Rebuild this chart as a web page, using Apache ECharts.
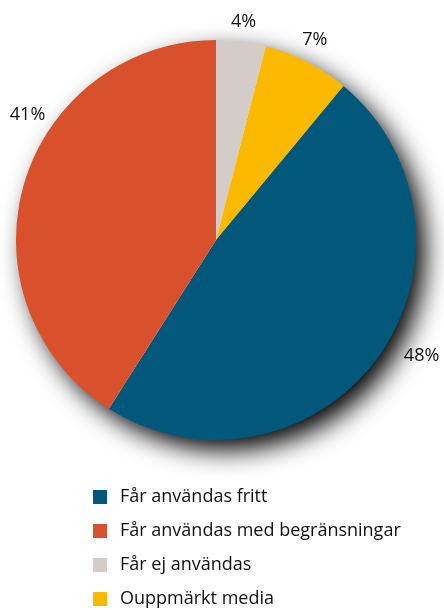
<!DOCTYPE html>
<html>
<head>
<meta charset="utf-8">
<script src="https://cdn.jsdelivr.net/npm/echarts@6/dist/echarts.min.js"></script>
<style>
  html, body { margin: 0; padding: 0; background: #fff; }
  #chart { width: 444px; height: 610px; }
</style>
</head>
<body>
<div id="chart"></div>
<script>
// Share of media by usage permission (percent), drawn clockwise from 12 o'clock
const categories = ['Får ej användas', 'Ouppmärkt media', 'Får användas fritt', 'Får användas med begränsningar'];
const values = [4, 7, 48, 41];
const colors = ['#D4CCC6', '#FBBA00', '#02587A', '#D9512C'];
const legendOrder = ['Får användas fritt', 'Får användas med begränsningar', 'Får ej användas', 'Ouppmärkt media'];

const FONT = '"Open Sans", "Noto Sans", sans-serif';
const center = [216, 240];
const radius = 200;

// Label placement around the rim: distance from centre and an angular nudge (degrees)
const labelRing = [
  { r: 220, nudge: 0 },
  { r: 223, nudge: -0.7 },
  { r: 236, nudge: -6.6 },
  { r: 226, nudge: 17.3 }
];

const total = values.reduce((a, b) => a + b, 0);
const midAngles = [];
let acc = 0;
values.forEach(v => {
  midAngles.push((acc + v / 2) / total * 360);
  acc += v;
});

const chart = echarts.init(document.getElementById('chart'), null, { renderer: 'canvas' });

chart.setOption({
  animation: false,
  textStyle: { fontFamily: FONT },
  legend: {
    orient: 'vertical',
    left: 93,
    top: 488,
    padding: 0,
    itemWidth: 14,
    itemHeight: 14,
    itemGap: 16,
    icon: 'rect',
    data: legendOrder,
    textStyle: { fontFamily: FONT, fontSize: 18, color: '#111', padding: [0, 0, 0, 8] }
  },
  series: [
    {
      // soft drop shadow under the whole disc
      type: 'pie',
      silent: true,
      center: center,
      radius: radius - 1,
      label: { show: false },
      labelLine: { show: false },
      itemStyle: {
        color: '#ffffff',
        shadowBlur: 26,
        shadowColor: 'rgba(0,0,0,1)',
        shadowOffsetX: 10,
        shadowOffsetY: 11
      },
      data: [{ value: 1, name: '' }],
      z: 1
    },
    {
      type: 'pie',
      center: center,
      radius: radius,
      startAngle: 90,
      clockwise: true,
      avoidLabelOverlap: false,
      itemStyle: { borderWidth: 0 },
      label: {
        show: true,
        position: 'outside',
        formatter: '{c}%',
        fontFamily: FONT,
        fontSize: 18,
        color: '#111'
      },
      labelLine: { show: false },
      labelLayout: function (params) {
        const i = params.dataIndex;
        const a = (midAngles[i] + labelRing[i].nudge) * Math.PI / 180;
        return {
          x: center[0] + labelRing[i].r * Math.sin(a),
          y: center[1] - labelRing[i].r * Math.cos(a),
          align: 'center',
          verticalAlign: 'middle'
        };
      },
      data: categories.map((name, i) => ({
        name: name,
        value: values[i],
        itemStyle: { color: colors[i] }
      })),
      z: 2
    }
  ]
});
</script>
</body>
</html>
